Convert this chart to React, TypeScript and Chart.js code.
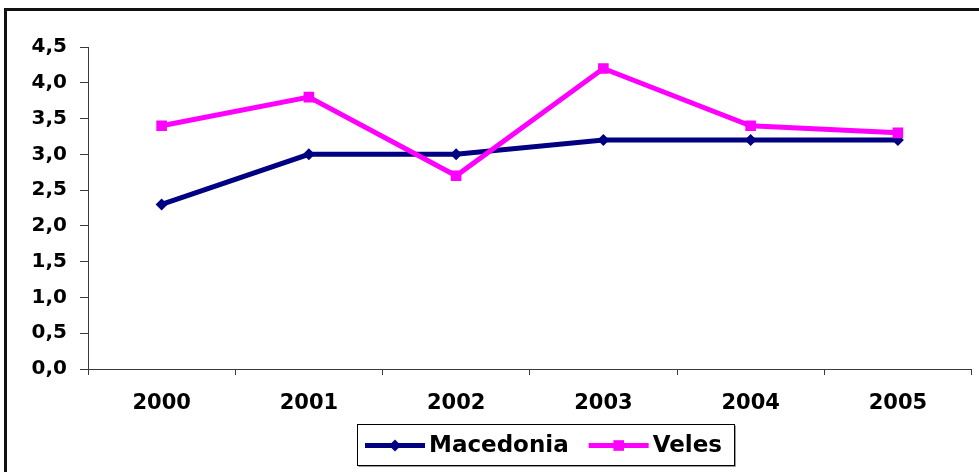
import React, { useEffect, useRef } from 'react';
import { Chart, registerables } from 'chart.js';

Chart.register(...registerables);

const categories = ['2000', '2001', '2002', '2003', '2004', '2005'];
const macedonia = [2.3, 3.0, 3.0, 3.2, 3.2, 3.2];
const veles = [3.4, 3.8, 2.7, 4.2, 3.4, 3.3];
const yTickLabels = ['0,0', '0,5', '1,0', '1,5', '2,0', '2,5', '3,0', '3,5', '4,0', '4,5'];

const FONT = '"DejaVu Sans", sans-serif';
const AXIS_COLOR = '#3a3a3a';

function drawMarker(ctx: CanvasRenderingContext2D, style: string, x: number, y: number, r: number, color: string) {
  ctx.fillStyle = color;
  ctx.beginPath();
  if (style === 'rectRot') {
    ctx.moveTo(x, y - r);
    ctx.lineTo(x + r, y);
    ctx.lineTo(x, y + r);
    ctx.lineTo(x - r, y);
    ctx.closePath();
  } else {
    const s = r * Math.SQRT1_2;
    ctx.rect(x - s, y - s, 2 * s, 2 * s);
  }
  ctx.fill();
}

const frame = {
  id: 'frame',
  beforeDraw(chart: any) {
    const ctx: CanvasRenderingContext2D = chart.ctx;
    ctx.save();
    ctx.fillStyle = '#fff';
    ctx.fillRect(0, 0, chart.width, chart.height);
    ctx.fillStyle = '#111';
    ctx.fillRect(4, 8, chart.width, 3);
    ctx.fillRect(4, 8, 3, chart.height);
    ctx.restore();
  },
};

const boxLegend = {
  id: 'boxLegend',
  afterDraw(chart: any) {
    const ctx: CanvasRenderingContext2D = chart.ctx;
    ctx.save();
    ctx.font = `bold 23px ${FONT}`;
    const left = 357;
    const top = 424;
    const h = 41;
    const pad = 8;
    const lineLen = 60;
    const textGap = 4;
    const itemGap = 20;
    const cy = top + h / 2 + 1;
    let x = left + pad;
    const dsets = chart.data.datasets;
    dsets.forEach((ds: any, i: number) => {
      ctx.strokeStyle = ds.borderColor;
      ctx.lineWidth = 5;
      ctx.beginPath();
      ctx.moveTo(x, cy);
      ctx.lineTo(x + lineLen, cy);
      ctx.stroke();
      drawMarker(ctx, ds.pointStyle, x + lineLen / 2, cy, ds.pointRadius, ds.borderColor);
      x += lineLen + textGap;
      ctx.fillStyle = '#000';
      ctx.textBaseline = 'alphabetic';
      ctx.textAlign = 'left';
      ctx.fillText(ds.label, x, 452);
      x += ctx.measureText(ds.label).width;
      if (i < dsets.length - 1) x += itemGap;
    });
    const right = x + pad + 4;
    ctx.strokeStyle = '#000';
    ctx.lineWidth = 1;
    ctx.strokeRect(left + 0.5, top + 0.5, right - left, h);
    ctx.strokeStyle = '#999';
    ctx.beginPath();
    ctx.moveTo(left + 1.5, top + h + 1.5);
    ctx.lineTo(right + 1.5, top + h + 1.5);
    ctx.lineTo(right + 1.5, top + 1.5);
    ctx.stroke();
    ctx.restore();
  },
};

export default function App() {
  const ref = useRef<HTMLCanvasElement | null>(null);
  useEffect(() => {
    document.body.style.margin = '0';
    document.body.style.overflow = 'hidden';
    if (!ref.current) return;
    const chart = new Chart(ref.current, {
      type: 'line',
      data: {
        labels: categories,
        datasets: [
          {
            label: 'Macedonia',
            data: macedonia,
            borderColor: '#000080',
            backgroundColor: '#000080',
            borderWidth: 5,
            pointStyle: 'rectRot',
            pointRadius: 6,
            pointBorderWidth: 0,
            pointBackgroundColor: '#000080',
            tension: 0,
            order: 1,
          },
          {
            label: 'Veles',
            data: veles,
            borderColor: '#FF00FF',
            backgroundColor: '#FF00FF',
            borderWidth: 5,
            pointStyle: 'rect',
            pointRadius: 7.5,
            pointBorderWidth: 0,
            pointBackgroundColor: '#FF00FF',
            tension: 0,
            order: 0,
          },
        ],
      },
      options: {
        animation: false,
        responsive: false,
        maintainAspectRatio: false,
        layout: { padding: { left: 0, top: 47, right: 7, bottom: 58 } },
        plugins: {
          legend: { display: false },
          tooltip: { enabled: false },
        },
        scales: {
          x: {
            type: 'category',
            offset: true,
            grid: {
              offset: true,
              drawOnChartArea: false,
              drawTicks: true,
              tickLength: 6,
              color: AXIS_COLOR,
              lineWidth: 1,
            },
            border: { display: true, color: AXIS_COLOR, width: 1 },
            ticks: {
              color: '#000',
              font: { family: FONT, size: 21, weight: 'bold' },
              padding: 16,
              maxRotation: 0,
            },
            afterFit: (scale: any) => {
              scale.height = 45;
            },
          },
          y: {
            min: 0,
            max: 4.5,
            ticks: {
              stepSize: 0.5,
              color: '#000',
              font: { family: FONT, size: 20, weight: 'bold' },
              padding: 13,
              callback: (_v: any, i: number) => yTickLabels[i],
            },
            grid: {
              drawOnChartArea: false,
              drawTicks: true,
              tickLength: 8,
              color: AXIS_COLOR,
              lineWidth: 1,
            },
            border: { display: true, color: AXIS_COLOR, width: 1 },
            afterFit: (scale: any) => {
              scale.width = 88;
            },
          },
        },
      },
      plugins: [frame, boxLegend],
    });
    return () => chart.destroy();
  }, []);
  return (
    <div style={{ position: 'fixed', left: 0, top: 0, width: 979, height: 472, overflow: 'hidden', background: '#fff' }}>
      <canvas ref={ref} width={979} height={472} style={{ display: 'block', width: 979, height: 472 }} />
    </div>
  );
}
